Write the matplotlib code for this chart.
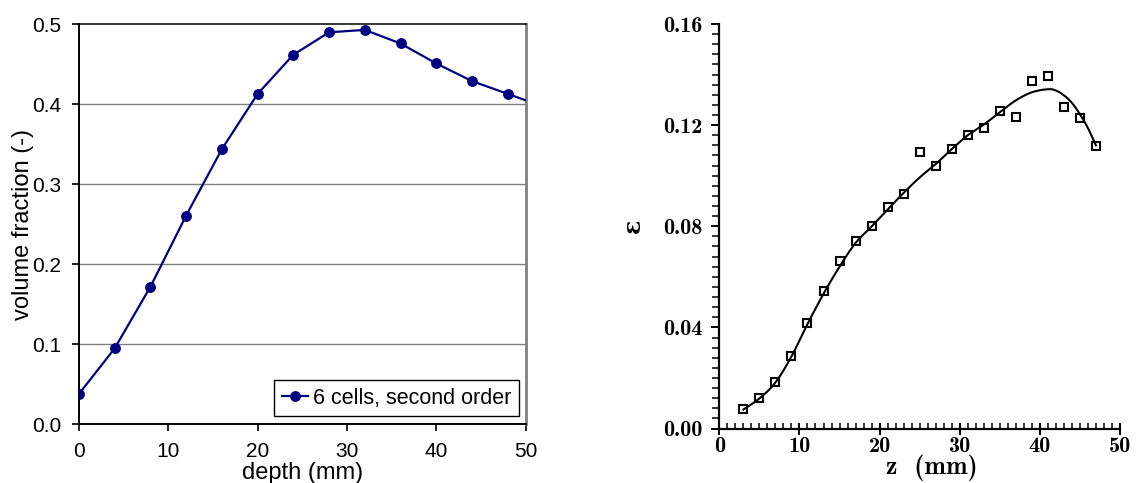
import numpy as np
import matplotlib
matplotlib.use("Agg")
import matplotlib.pyplot as plt
from matplotlib.ticker import MultipleLocator, FormatStrFormatter

# Left panel: simulated volume fraction vs depth
depth_mm = [0, 4, 8, 12, 16, 20, 24, 28, 32, 36, 40, 44, 48, 52]
volume_fraction = [0.038, 0.095, 0.172, 0.261, 0.344, 0.413, 0.462, 0.490,
                   0.493, 0.476, 0.451, 0.429, 0.413, 0.397]
series_label = "6 cells, second order"

# Right panel: measured voidage (squares) and fitted curve
z_meas = [3, 5, 7, 9, 11, 13, 15, 17, 19, 21, 23, 25, 27, 29, 31, 33, 35,
          37, 39, 41, 43, 45, 47]
eps_meas = [0.0078, 0.0121, 0.0183, 0.0287, 0.0417, 0.0542, 0.0664, 0.0740,
            0.0802, 0.0876, 0.0926, 0.1094, 0.1040, 0.1104, 0.1160, 0.1189,
            0.1257, 0.1233, 0.1376, 0.1394, 0.1273, 0.1230, 0.1119]
z_fit = [3, 5, 7, 9, 11, 13, 15, 17, 19, 21, 23, 25, 27, 29, 31, 33, 35,
         37, 39, 41, 42, 43, 44, 45, 46, 47]
eps_fit = [0.0075, 0.0119, 0.0182, 0.0285, 0.0413, 0.0533, 0.0640, 0.0734,
           0.0799, 0.0866, 0.0932, 0.0993, 0.1046, 0.1105, 0.1160, 0.1202,
           0.1251, 0.1298, 0.1330, 0.1342, 0.1337, 0.1318, 0.1288, 0.1243,
           0.1188, 0.1120]


def catmull_rom(x, y, n=20):
    """Smooth Catmull-Rom pass through the given points."""
    x = np.asarray(x, float)
    y = np.asarray(y, float)
    px = np.concatenate([[2 * x[0] - x[1]], x, [2 * x[-1] - x[-2]]])
    py = np.concatenate([[2 * y[0] - y[1]], y, [2 * y[-1] - y[-2]]])
    xs, ys = [], []
    t = np.linspace(0, 1, n, endpoint=False)
    for i in range(1, len(px) - 2):
        for arr, out in ((px, xs), (py, ys)):
            p0, p1, p2, p3 = arr[i - 1], arr[i], arr[i + 1], arr[i + 2]
            out.extend(0.5 * ((2 * p1) + (-p0 + p2) * t
                              + (2 * p0 - 5 * p1 + 4 * p2 - p3) * t ** 2
                              + (-p0 + 3 * p1 - 3 * p2 + p3) * t ** 3))
    xs.append(x[-1])
    ys.append(y[-1])
    return np.array(xs), np.array(ys)


fig = plt.figure(figsize=(11.38, 4.83), dpi=100)

# ---------------- left panel ----------------
sans = "Liberation Sans"
ax1 = fig.add_axes([0.0694, 0.1215, 0.3925, 0.8282])
ax1.set_xlim(0, 50)
ax1.set_ylim(0, 0.5)
for yv in [0.1, 0.2, 0.3, 0.4]:
    ax1.axhline(yv, color="#808080", lw=1.0, zorder=1)
ax1.plot(depth_mm, volume_fraction, color="#000080", lw=1.6, marker="o",
         ms=6.8, mfc="#000080", mec="#000080", label=series_label, zorder=3)
ax1.spines["left"].set_linewidth(1.4)
ax1.spines["bottom"].set_linewidth(1.4)
ax1.spines["top"].set_linewidth(1.1)
ax1.spines["right"].set_color("#808080")
ax1.spines["right"].set_linewidth(2.0)
ax1.xaxis.set_major_locator(MultipleLocator(10))
ax1.yaxis.set_major_locator(MultipleLocator(0.1))
ax1.yaxis.set_major_formatter(FormatStrFormatter("%.1f"))
ax1.tick_params(axis="x", direction="out", length=5, width=1.2, pad=8,
                labelsize=15)
ax1.tick_params(axis="y", direction="out", length=5, width=1.2, pad=8,
                labelsize=15)
for lab in ax1.get_xticklabels() + ax1.get_yticklabels():
    lab.set_fontfamily(sans)
ax1.set_xlabel("depth (mm)", fontsize=17, fontfamily=sans)
ax1.xaxis.set_label_coords(0.5, -0.093)
ax1.set_ylabel("volume fraction (-)", fontsize=17, fontfamily=sans)
ax1.yaxis.set_label_coords(-0.10, 0.5)
leg = ax1.legend(loc="lower right", bbox_to_anchor=(0.985, 0.02),
                 borderaxespad=0, fancybox=False, framealpha=1,
                 edgecolor="black", handlelength=1.2, handletextpad=0.25,
                 borderpad=0.35, prop={"family": sans, "size": 15.5})
leg.get_frame().set_linewidth(1.0)

# ---------------- right panel ----------------
serif = "cmb10"
ax2 = fig.add_axes([0.6321, 0.1128, 0.3521, 0.8375])
ax2.set_xlim(0, 50)
ax2.set_ylim(0, 0.16)
zs, es = catmull_rom(z_fit, eps_fit)
ax2.plot(zs, es, color="black", lw=1.5, zorder=2)
ax2.plot(z_meas, eps_meas, ls="none", marker="s", ms=6.3, mfc="none",
         mec="black", mew=1.5, zorder=3)
for side in ["top", "right"]:
    ax2.spines[side].set_visible(False)
ax2.spines["left"].set_linewidth(1.6)
ax2.spines["bottom"].set_linewidth(1.6)
ax2.xaxis.set_major_locator(MultipleLocator(10))
ax2.xaxis.set_minor_locator(MultipleLocator(1))
ax2.yaxis.set_major_locator(MultipleLocator(0.04))
ax2.yaxis.set_minor_locator(MultipleLocator(0.004))
ax2.yaxis.set_major_formatter(FormatStrFormatter("%.2f"))
ax2.tick_params(axis="x", which="major", direction="inout", length=8,
                width=1.4, pad=2, labelsize=16)
ax2.tick_params(axis="x", which="minor", direction="in", length=4, width=1.1)
ax2.tick_params(axis="y", which="major", direction="out", length=6,
                width=1.4, pad=6, labelsize=16)
ax2.tick_params(axis="y", which="minor", direction="out", length=5,
                width=1.1)
for lab in ax2.get_xticklabels() + ax2.get_yticklabels():
    lab.set_fontfamily(serif)
ax2.set_xlabel("z  (mm)", fontsize=18.5, fontfamily=serif)
ax2.xaxis.set_label_coords(0.53, -0.064)
ax2.set_ylabel("ε", fontsize=17, fontfamily="DejaVu Serif",
               fontweight="bold")
ax2.yaxis.set_label_coords(-0.185, 0.5)

fig.savefig("out.png", dpi=100)
